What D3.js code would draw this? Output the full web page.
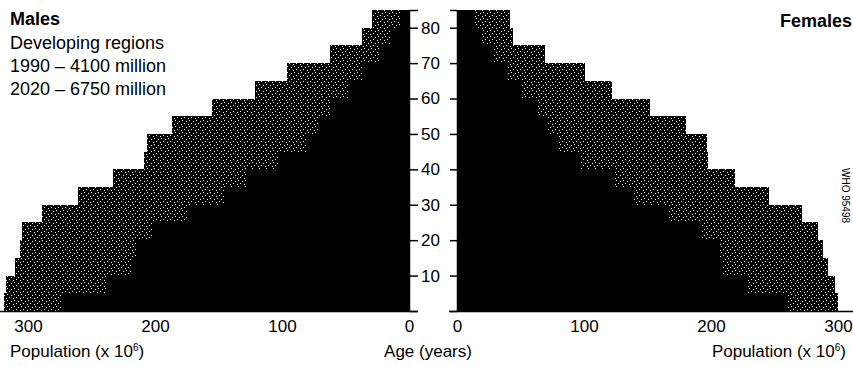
<!DOCTYPE html>
<html>
<head>
<meta charset="utf-8">
<script src="https://cdn.jsdelivr.net/npm/d3@7"></script>
<style>
  body { margin: 0; background: #fff; }
  text { font-family: "Liberation Sans", Arial, sans-serif; fill: #000; }
</style>
</head>
<body>
<svg id="chart" width="853" height="366"></svg>
<script>
// age groups, 5-year bands (start age of each band)
const ageStart = [0, 5, 10, 15, 20, 25, 30, 35, 40, 45, 50, 55, 60, 65, 70, 75, 80];
// population in millions
const males1990   = [273, 238, 218, 214, 202, 174, 146, 128, 102, 80, 72, 62, 48, 36, 24, 15, 7];
const males2020   = [319, 317, 310, 306, 305, 289, 261, 233, 209, 206, 187, 155, 121, 96, 62, 37, 29];
const females1990 = [261, 229, 209, 206, 193, 166, 139, 124, 98, 80, 72, 63, 51, 39, 28, 20, 13];
const females2020 = [300, 298, 292, 288, 284, 272, 246, 219, 198, 197, 180, 152, 122, 101, 69, 44, 42];
const ageTicks = [0, 10, 20, 30, 40, 50, 60, 70, 80, 85];
const popTicks = [0, 100, 200, 300];

const svg = d3.select("#chart");

// speckled fill standing in for the grey screen of the 2020 bars
const pat = svg.append("defs").append("pattern")
    .attr("id", "speckle")
    .attr("patternUnits", "userSpaceOnUse")
    .attr("width", 7).attr("height", 6);
pat.append("rect").attr("width", 7).attr("height", 6).attr("fill", "#000");
[[0,0],[4,1],[2,3],[6,4]].forEach(p => {
  pat.append("rect").attr("x", p[0]).attr("y", p[1]).attr("width", 1).attr("height", 1).attr("fill", "#fff");
});

var y = d3.scaleLinear().domain([0, 85]).range([311, 10]);
var xL = d3.scaleLinear().domain([0, 300]).range([409, 28]);
var xR = d3.scaleLinear().domain([0, 300]).range([457, 838]);

function bars(side, values, x, fill) {
  svg.append("g").selectAll("rect")
    .data(values.map((v, i) => ({ a: ageStart[i], v: v })))
    .enter().append("rect")
    .attr("x", d => side == "L" ? x(d.v) : x(0))
    .attr("width", d => Math.abs(x(d.v) - x(0)))
    .attr("y", d => y(d.a + 5))
    .attr("height", d => y(d.a) - y(d.a + 5))
    .attr("fill", fill)
    .attr("shape-rendering", "crispEdges");
}

bars("L", males2020, xL, "url(#speckle)");
bars("L", males1990, xL, "#000");
bars("R", females2020, xR, "url(#speckle)");
bars("R", females1990, xR, "#000");

// age axes in the middle
var ageAxisL = d3.axisRight(y).tickValues(ageTicks).tickSize(9).tickSizeOuter(0)
    .tickFormat(d => (d > 0 && d < 85) ? d : "");
var gL = svg.append("g").attr("transform", "translate(409,0)").call(ageAxisL);
gL.selectAll("text").attr("font-size", 17).attr("x", 12);

var ageAxisR = d3.axisLeft(y).tickValues(ageTicks).tickSize(7).tickSizeOuter(0).tickFormat("");
svg.append("g").attr("transform", "translate(457,0)").call(ageAxisR);

svg.selectAll(".domain, .tick line").attr("stroke", "#000").attr("stroke-width", 1.5);
svg.selectAll(".tick text").attr("font-family", "Liberation Sans, Arial, sans-serif");

// baselines
svg.append("line").attr("x1", 0).attr("x2", 418).attr("y1", 311.5).attr("y2", 311.5)
   .attr("stroke", "#000").attr("stroke-width", 1.5);
svg.append("line").attr("x1", 449).attr("x2", 853).attr("y1", 311.5).attr("y2", 311.5)
   .attr("stroke", "#000").attr("stroke-width", 1.5);

// population tick labels
var popL = d3.axisBottom(xL).tickValues(popTicks).tickSize(0).tickPadding(9);
var pL = svg.append("g").attr("transform", "translate(0,311)").call(popL);
var popR = d3.axisBottom(xR).tickValues(popTicks).tickSize(0).tickPadding(9);
var pR = svg.append("g").attr("transform", "translate(0,311)").call(popR);
[pL, pR].forEach(g => {
  g.select(".domain").remove();
  g.selectAll("text").attr("font-size", 17).attr("font-family", "Liberation Sans, Arial, sans-serif");
});

// titles and labels
svg.append("text").attr("x", 10).attr("y", 25).attr("font-size", 18).attr("font-weight", "bold").text("Males");
svg.append("text").attr("x", 10).attr("y", 49).attr("font-size", 18).text("Developing regions");
svg.append("text").attr("x", 10).attr("y", 72).attr("font-size", 18).text("1990 \u2013 4100 million");
svg.append("text").attr("x", 10).attr("y", 95).attr("font-size", 18).text("2020 \u2013 6750 million");
svg.append("text").attr("x", 852).attr("y", 27).attr("font-size", 18).attr("font-weight", "bold")
   .attr("text-anchor", "end").text("Females");

var lab = svg.append("text").attr("x", 10).attr("y", 357).attr("font-size", 17);
lab.append("tspan").text("Population (x 10");
lab.append("tspan").attr("font-size", 10).attr("dy", -6).text("6");
lab.append("tspan").attr("dy", 6).text(")");

svg.append("text").attr("x", 428).attr("y", 357).attr("font-size", 17).attr("text-anchor", "middle").text("Age (years)");

var lab2 = svg.append("text").attr("x", 846).attr("y", 357).attr("font-size", 17).attr("text-anchor", "end");
lab2.append("tspan").text("Population (x 10");
lab2.append("tspan").attr("font-size", 10).attr("dy", -6).text("6");
lab2.append("tspan").attr("dy", 6).text(")");

svg.append("text").attr("transform", "translate(842,168) rotate(90)")
   .attr("font-size", 10).text("WHO 95498");
</script>
</body>
</html>
